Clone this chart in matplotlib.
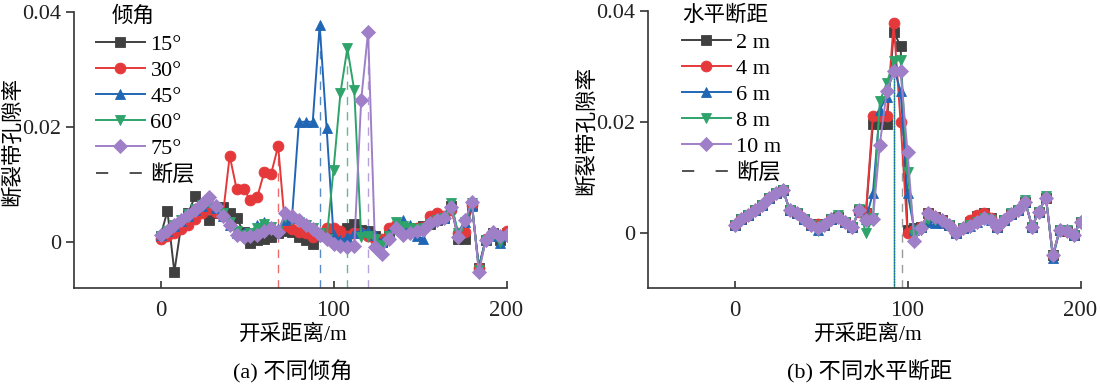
import numpy as np
import matplotlib
matplotlib.use('Agg')
import matplotlib.pyplot as plt
from matplotlib.ticker import FuncFormatter

plt.rcParams['font.family'] = ['Liberation Serif', 'Noto Sans CJK SC']
plt.rcParams['axes.unicode_minus'] = False

# distance along the panel (m), one point every 4 m
dist = np.arange(0, 201, 4)

# (a) different dip angles, porosity in units of 1e-3
dip_labels = ['15°', '30°', '45°', '60°', '75°']
dip_15 = [1.0, 5.4, -5.2, 3.0, 5.0, 8.0, 6.5, 3.8, 5.0, 6.1, 5.0, 4.1, 1.8, -0.2, 0.3, 0.6, 0.9,
          1.5, 2.0, 1.8, 0.9, 0.3, -0.3, 1.0, 1.5, 1.8, 2.0, 2.5, 3.1, 2.1, 2.0, 1.0, 0.0, 1.2,
          2.5, 2.0, 2.0, 2.5, 2.8, 3.2, 3.8, 4.2, 6.2, 0.6, 0.6, 6.5, -4.5, 0.3, 1.5, 0.3, 1.5]
dip_30 = [0.6, 1.0, 1.5, 2.2, 3.0, 4.0, 5.0, 5.8, 5.3, 4.5, 15.0, 9.2, 9.2, 7.3, 7.9, 12.2, 11.9,
          16.7, 2.7, 2.2, 1.8, 1.5, 0.9, 1.5, 2.4, 2.4, 2.0, 1.0, 1.5, 1.5, 1.0, 0.5, 0.5, 2.5,
          3.0, 2.5, 2.2, 2.5, 2.6, 4.5, 5.0, 4.5, 5.5, 1.5, 1.8, 6.5, -4.5, 0.5, 1.5, 1.0, 2.0]
dip_45 = [1.2, 2.0, 2.8, 3.6, 4.5, 5.5, 6.3, 7.0, 6.0, 4.5, 3.0, 1.5, 1.5, 1.5, 3.0, 3.5, 2.5,
          2.2, 3.8, 4.2, 20.9, 20.9, 20.9, 37.7, 19.9, 1.2, 0.4, 0.8, 1.5, 2.0, 2.0, 1.2, 0.0,
          1.5, 2.5, 3.8, 3.0, 1.0, 0.6, 3.5, 4.0, 4.2, 6.5, 1.5, 3.5, 6.2, -4.3, 0.5, 1.0, -0.2, 1.0]
dip_60 = [1.0, 2.0, 3.0, 3.8, 4.8, 5.8, 6.5, 6.8, 6.0, 5.0, 3.5, 2.0, 1.2, 1.5, 2.5, 3.2, 2.6,
          2.0, 4.4, 4.0, 3.5, 3.0, 2.5, 1.5, 0.5, 12.5, 25.9, 33.7, 26.4, 0.9, 1.0, 0.5, -0.5,
          1.0, 3.5, 2.8, 2.5, 2.2, 2.5, 3.2, 3.8, 4.2, 6.8, 1.5, 3.5, 6.8, -4.8, 0.3, 1.2, 0.0, 1.0]
dip_75 = [1.2, 2.0, 2.9, 3.8, 4.7, 5.6, 6.6, 7.8, 6.2, 4.6, 3.0, 1.2, 0.9, 1.0, 1.3, 2.0, 2.4,
          1.8, 5.0, 4.5, 3.9, 3.0, 2.2, 1.3, 0.5, -0.3, -0.7, -0.8, -0.7, 24.7, 36.6, -0.8, -2.0,
          0.6, 2.4, 1.2, 1.6, 1.9, 2.1, 3.3, 3.9, 4.2, 6.1, 0.9, 3.8, 7.0, -5.3, 0.3, 1.8, 1.1, 1.2]
dip_series = [dip_15, dip_30, dip_45, dip_60, dip_75]
dip_fault_x = [68, 92, 108, 120]
dip_fault_top = [16.7, 37.7, 33.7, 36.6]

# (b) different horizontal fault distances
hd_labels = ['2 m', '4 m', '6 m', '8 m', '10 m']
hd_2 = [1.4, 2.4, 3.2, 4.0, 5.0, 6.3, 7.2, 7.7, 4.0, 3.5, 2.5, 1.4, 1.5, 1.3, 2.4, 2.9, 2.0,
        1.0, 4.0, 3.5, 19.6, 19.6, 19.6, 36.2, 33.7, 0.5, 0.8, 1.0, 3.5, 2.9, 2.2, 1.4, 0.0,
        0.8, 2.0, 3.0, 3.5, 2.6, 1.1, 2.3, 3.3, 4.0, 5.6, 1.1, 3.8, 6.3, -4.0, 0.5, 0.3, -0.4, 1.9]
hd_4 = [1.4, 2.4, 3.2, 4.0, 5.0, 6.3, 7.2, 7.7, 4.0, 3.5, 2.5, 1.4, 1.6, 1.3, 2.4, 2.9, 2.0,
        1.0, 3.8, 3.8, 21.0, 21.0, 21.0, 37.8, 20.0, 0.0, 0.5, 1.0, 3.5, 2.9, 2.2, 1.4, 0.0,
        0.8, 2.2, 3.2, 3.6, 2.6, 1.1, 2.3, 3.3, 4.0, 5.6, 1.1, 3.8, 6.3, -4.0, 0.5, 0.3, -0.4, 1.9]
hd_6 = [1.4, 2.4, 3.2, 4.0, 5.0, 6.3, 7.2, 7.7, 4.0, 3.5, 2.5, 1.4, 0.5, 1.3, 2.4, 2.9, 2.0,
        1.0, 4.0, 2.5, 7.1, 22.2, 24.5, 30.0, 25.5, 7.1, 0.5, 1.0, 2.0, 1.8, 1.8, 1.4, 0.0,
        0.8, 1.2, 2.0, 2.6, 2.2, 1.1, 2.3, 3.3, 4.0, 5.6, 1.1, 3.8, 6.6, -4.6, 0.5, 0.6, -0.4, 1.9]
hd_8 = [1.4, 2.4, 3.2, 4.0, 5.0, 6.3, 7.2, 7.7, 4.0, 3.5, 2.5, 1.4, 0.2, 1.3, 2.4, 3.2, 2.0,
        1.0, 4.2, -0.1, 2.6, 23.7, 27.0, 30.9, 31.2, 11.0, -0.5, 0.5, 2.5, 2.3, 2.0, 1.4, -0.2,
        0.8, 1.4, 2.0, 2.6, 2.2, 1.1, 2.3, 3.5, 4.0, 5.8, 1.1, 3.8, 6.6, -4.2, 0.5, 0.4, -0.4, 1.9]
hd_10 = [1.4, 2.4, 3.2, 4.0, 5.0, 6.3, 7.2, 7.7, 4.0, 3.5, 2.5, 1.4, 0.8, 1.3, 2.4, 2.9, 2.0,
         1.0, 4.0, 2.2, 2.4, 15.9, 25.5, 29.1, 29.1, 14.6, -1.6, 0.8, 3.5, 2.9, 2.2, 1.4, 0.0,
         0.8, 1.2, 2.0, 2.6, 2.2, 1.1, 2.3, 3.3, 4.0, 5.6, 1.1, 3.8, 6.3, -4.0, 0.5, 0.3, -0.4, 1.9]
hd_series = [hd_2, hd_4, hd_6, hd_8, hd_10]

colors = ['#404040', '#e5383b', '#2166b4', '#2ea36a', '#9f80c8']
markers = ['s', 'o', '^', 'v', 'D']
msizes = [6.8, 7.8, 7.8, 7.8, 6.8]

W, H = 1101, 385
fig = plt.figure(figsize=(W / 100, H / 100), dpi=100)


def px_axes(x0, x1, ytop, ybot):
    return fig.add_axes([x0 / W, 1 - ybot / H, (x1 - x0) / W, (ybot - ytop) / H])


def style(ax, ymin):
    ax.set_xlim(-50, 200)
    ax.set_ylim(ymin, 0.04)
    ax.set_xticks([0, 100, 200])
    ax.set_yticks([0, 0.02, 0.04])
    ax.yaxis.set_major_formatter(FuncFormatter(lambda v, p: '%g' % round(v, 4)))
    for s in ['top', 'right']:
        ax.spines[s].set_visible(False)
    for s in ['left', 'bottom']:
        ax.spines[s].set_color('#333333')
        ax.spines[s].set_linewidth(1.2)
    ax.tick_params(axis='y', direction='out', length=6, width=1.1, labelsize=16, pad=3, colors='#222222')
    ax.tick_params(axis='x', direction='in', length=5, width=1.1, labelsize=16.5, pad=9, colors='#222222')


def draw(ax, series, labels):
    handles = []
    for vals, lab, c, m, ms in zip(series, labels, colors, markers, msizes):
        h, = ax.plot(dist, np.array(vals) / 1000, color=c, marker=m, markersize=ms,
                     markeredgewidth=0.6, markeredgecolor=c, lw=1.4, label=lab, zorder=3)
        handles.append(h)
    fh, = ax.plot([], [], color='#222222', lw=1.1, ls=(0, (8, 14)), label='断层')
    handles.append(fh)
    return handles


def legend(ax, handles, x_px, y_px):
    return ax.legend(handles=handles, loc='upper left', bbox_to_anchor=(x_px / W, 1 - y_px / H),
                     bbox_transform=fig.transFigure, frameon=False, fontsize=16,
                     handlelength=2.2, handletextpad=0.25, labelspacing=0.25,
                     borderpad=0, borderaxespad=0)


# ---- (a) ----
ax1 = px_axes(74, 506.5, 12, 288)
style(ax1, -0.008)
for fx, ft, c in zip(dip_fault_x, dip_fault_top, colors[1:]):
    ax1.vlines(fx, -0.008, ft / 1000, colors=c, linestyles=(0, (6, 5)), lw=1.0, alpha=0.75, zorder=2)
h1 = draw(ax1, dip_series, dip_labels)
ax1.set_ylabel('断裂带孔隙率', fontsize=15.5)
ax1.yaxis.label.set_va('center')
ax1.yaxis.set_label_coords(-0.141, 0.529)
ax1.set_xlabel('开采距离/m', fontsize=15.5)
ax1.xaxis.set_label_coords(0.506, -0.17)
ax1.xaxis.label.set_va('center')
legend(ax1, h1, 96, 34)
fig.text(112 / W, 1 - 16 / H, '倾角', fontsize=15.5, va='center', ha='left')

# ---- (b) ----
ax2 = px_axes(648, 1080.5, 11, 288)
style(ax2, -0.01)
ax2.vlines(92.3, -0.01, 0.031, colors=colors[3], lw=1.0, zorder=2)
ax2.vlines(92.3, -0.01, 0.030, colors=colors[2], linestyles=(0, (1, 1)), lw=1.0, zorder=2)
ax2.vlines(96.6, -0.01, 0.030, colors='#999999', linestyles=(0, (6, 5)), lw=1.0, zorder=2)
h2 = draw(ax2, hd_series, hd_labels)
ax2.set_ylabel('断裂带孔隙率', fontsize=15.5)
ax2.yaxis.label.set_va('center')
ax2.yaxis.set_label_coords(-0.141, 0.570)
ax2.set_xlabel('开采距离/m', fontsize=15.5)
ax2.xaxis.set_label_coords(0.51, -0.17)
ax2.xaxis.label.set_va('center')
legend(ax2, h2, 682, 32)
fig.text(682 / W, 1 - 16 / H, '水平断距', fontsize=15.5, va='center', ha='left')

fig.text(293 / W, 1 - 372 / H, '(a) 不同倾角', fontsize=16, ha='center', va='center')
fig.text(870 / W, 1 - 372 / H, '(b) 不同水平断距', fontsize=16, ha='center', va='center')

fig.savefig('out.png', dpi=100)
